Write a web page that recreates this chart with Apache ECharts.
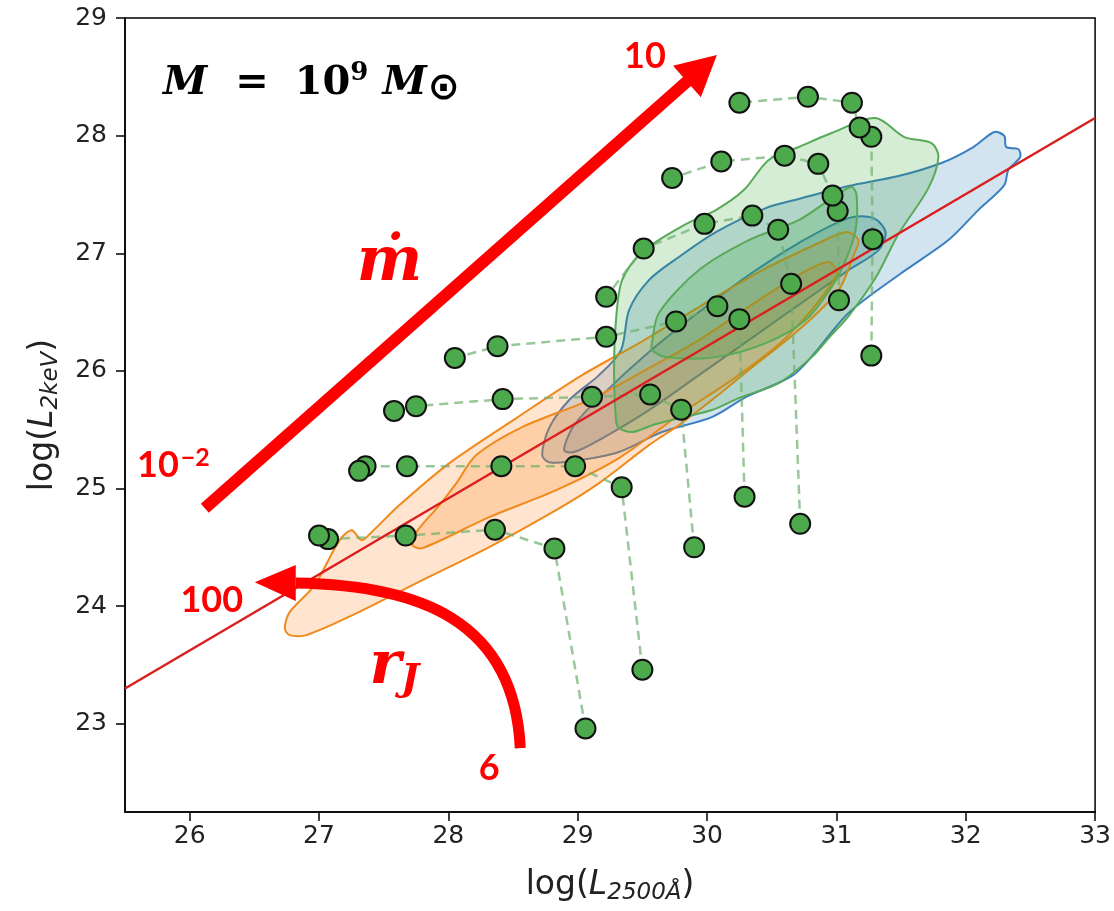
<!DOCTYPE html>
<html>
<head>
<meta charset="utf-8">
<script src="https://cdn.jsdelivr.net/npm/echarts@6/dist/echarts.min.js"></script>
<style>
  html, body { margin: 0; padding: 0; background: #ffffff; }
  #chart { width: 1114px; height: 911px; }
</style>
</head>
<body>
<div id="chart"></div>
<script>
// Axis ticks
const xTicks = [26, 27, 28, 29, 30, 31, 32, 33];
const yTicks = [23, 24, 25, 26, 27, 28, 29];

// Model tracks: each track is one accretion rate, r_J running from 6 up to 100
const track1 = [[29.06, 22.96], [28.82, 24.49], [28.36, 24.65], [27.67, 24.60], [27.07, 24.57], [27.00, 24.60]];
const track2 = [[29.50, 23.46], [29.34, 25.01], [28.98, 25.19], [28.41, 25.19], [27.68, 25.19], [27.36, 25.19], [27.31, 25.15]];
const track3 = [[29.90, 24.50], [29.80, 25.67], [29.56, 25.80], [29.11, 25.78], [28.42, 25.76], [27.75, 25.70], [27.58, 25.66]];
const track4 = [[30.29, 24.93], [30.25, 26.44], [30.08, 26.55], [29.76, 26.42], [29.22, 26.29], [28.38, 26.21], [28.05, 26.11]];
const track5 = [[30.72, 24.70], [30.65, 26.74], [30.55, 27.20], [30.35, 27.32], [29.98, 27.25], [29.51, 27.04], [29.22, 26.63]];
const track6 = [[31.02, 26.60], [31.01, 27.36], [30.97, 27.49], [30.86, 27.76], [30.60, 27.83], [30.11, 27.78], [29.73, 27.64]];
const track7 = [[31.27, 26.13], [31.28, 27.12], [31.27, 27.99], [31.18, 28.07], [31.12, 28.28], [30.78, 28.33], [30.25, 28.28]];
const tracks = [track1, track2, track3, track4, track5, track6, track7];

// Best-fit relation
const fitLine = [[25.5, 23.30], [33.0, 28.15]];

// Density contours (outer and inner levels) of the observed samples
const blueOuter = [[28.725,25.284],[28.779,25.514],[28.934,25.752],[29.165,25.964],[29.335,26.177],[29.397,26.517],[29.551,26.772],[29.782,26.968],[30.068,27.180],[30.454,27.384],[30.708,27.461],[31.094,27.571],[31.480,27.656],[31.812,27.767],[32.059,27.903],[32.221,28.031],[32.298,27.997],[32.313,27.903],[32.406,27.886],[32.421,27.818],[32.329,27.707],[32.298,27.580],[32.097,27.367],[31.866,27.112],[31.503,26.832],[31.094,26.492],[30.685,25.981],[30.299,25.777],[30.037,25.607],[29.651,25.480],[29.319,25.310],[28.972,25.233],[28.779,25.224]];
const blueInner = [[28.895,25.327],[28.972,25.539],[29.204,25.811],[29.551,26.160],[29.937,26.500],[30.323,26.815],[30.708,27.087],[31.094,27.299],[31.287,27.299],[31.380,27.180],[31.326,27.027],[31.094,26.857],[30.708,26.560],[30.323,26.262],[29.937,25.964],[29.551,25.667],[29.165,25.412],[28.972,25.310]];
const greenOuter = [[29.296,25.582],[29.281,26.007],[29.296,26.432],[29.343,26.772],[29.497,27.010],[29.836,27.248],[30.068,27.367],[30.284,27.537],[30.477,27.793],[30.708,27.903],[30.963,28.022],[31.302,28.150],[31.526,27.988],[31.735,27.937],[31.789,27.818],[31.711,27.554],[31.480,27.163],[31.302,26.789],[31.094,26.466],[30.940,26.279],[30.809,26.117],[30.554,25.896],[30.245,25.769],[30.037,25.667],[29.605,25.548],[29.420,25.480],[29.319,25.514]];
const greenInner = [[29.574,26.236],[29.628,26.492],[29.937,26.857],[30.323,27.112],[30.708,27.282],[30.978,27.478],[31.117,27.563],[31.156,27.495],[31.148,27.197],[31.071,26.942],[30.963,26.713],[30.762,26.432],[30.454,26.236],[30.068,26.117],[29.682,26.117],[29.574,26.177]];
const orangeOuter = [[26.735,23.813],[26.773,23.949],[26.966,24.179],[27.159,24.561],[27.252,24.646],[27.329,24.561],[27.406,24.629],[27.622,24.859],[28.008,25.216],[28.525,25.599],[29.034,25.964],[29.474,26.236],[29.937,26.543],[30.400,26.840],[30.863,27.087],[31.079,27.180],[31.171,27.112],[31.133,26.985],[31.017,26.687],[30.708,26.347],[30.323,26.007],[30.037,25.752],[29.782,25.539],[29.551,25.369],[29.165,25.046],[28.833,24.816],[28.316,24.502],[27.799,24.221],[27.290,23.940],[26.904,23.754],[26.773,23.754]];
const orangeInner = [[27.722,24.519],[27.753,24.629],[27.931,24.859],[28.062,25.046],[28.216,25.284],[28.571,25.522],[29.088,25.752],[29.551,26.024],[29.937,26.262],[30.400,26.602],[30.708,26.815],[30.940,26.925],[31.002,26.815],[30.631,26.304],[30.245,25.964],[29.782,25.624],[29.319,25.259],[28.833,24.986],[28.316,24.757],[27.799,24.493]];

const chart = echarts.init(document.getElementById('chart'), null, { renderer: 'canvas' });

function contour(poly, fill, stroke) {
  return {
    type: 'custom',
    silent: true,
    animation: false,
    z: 1,
    data: poly,
    renderItem(params, api) {
      if (params.dataIndex !== 0) return null;
      const pts = poly.map(p => api.coord(p));
      return {
        type: 'polygon',
        shape: { points: pts, smooth: 0.3 },
        style: { fill: fill, stroke: stroke, lineWidth: 2 }
      };
    }
  };
}

const BLUE_FILL = 'rgba(31,119,180,0.20)', BLUE_LINE = '#3a7fc0';
const GREEN_FILL = 'rgba(44,160,44,0.20)', GREEN_LINE = '#58aa58';
const ORANGE_FILL = 'rgba(255,127,14,0.20)', ORANGE_LINE = '#f08a1c';

const series = [
  contour(blueOuter, BLUE_FILL, BLUE_LINE),
  contour(blueInner, BLUE_FILL, BLUE_LINE),
  contour(orangeOuter, ORANGE_FILL, ORANGE_LINE),
  contour(orangeInner, ORANGE_FILL, ORANGE_LINE),
  contour(greenOuter, GREEN_FILL, GREEN_LINE),
  contour(greenInner, GREEN_FILL, GREEN_LINE)
];

tracks.forEach(t => {
  series.push({
    type: 'line',
    data: t,
    z: 2,
    silent: true,
    animation: false,
    showSymbol: false,
    lineStyle: { color: 'rgba(110,175,110,0.7)', width: 2.5, type: [9, 6] }
  });
});

series.push({
  type: 'line',
  data: fitLine,
  z: 3,
  silent: true,
  animation: false,
  showSymbol: false,
  lineStyle: { color: '#dc1e1e', width: 2.5 }
});

series.push({
  type: 'scatter',
  data: tracks.flat(),
  z: 4,
  silent: true,
  animation: false,
  symbol: 'circle',
  symbolSize: 20,
  itemStyle: { color: '#4caa4c', borderColor: '#111111', borderWidth: 2, opacity: 1 }
});

const axisFont = 'DejaVu Sans';

chart.setOption({
  backgroundColor: '#ffffff',
  animation: false,
  grid: { left: 125, top: 18, width: 972, height: 794, show: true, borderColor: '#000', borderWidth: 1.5, backgroundColor: 'transparent' },
  xAxis: {
    type: 'value', min: 25.5, max: 33, splitNumber: 8,
    axisLine: { show: true, onZero: false, lineStyle: { color: '#000', width: 1.5 } },
    axisTick: { show: true, length: 9, lineStyle: { color: '#000', width: 1.5 }, customValues: xTicks },
    axisLabel: { customValues: xTicks, fontSize: 25, color: '#222', margin: 12, fontFamily: axisFont },
    splitLine: { show: false },
    name: 'log({i|L}{s|2500Å})',
    nameLocation: 'middle',
    nameGap: 53,
    nameTextStyle: {
      fontSize: 33, color: '#222', fontFamily: axisFont, lineHeight: 40,
      rich: {
        i: { fontSize: 33, fontStyle: 'italic', color: '#222', fontFamily: axisFont, lineHeight: 40 },
        s: { fontSize: 23, fontStyle: 'italic', color: '#222', fontFamily: axisFont, lineHeight: 18, verticalAlign: 'bottom' }
      }
    }
  },
  yAxis: {
    type: 'value', min: 22.25, max: 29, splitNumber: 7,
    axisLine: { show: true, onZero: false, lineStyle: { color: '#000', width: 1.5 } },
    axisTick: { show: true, length: 9, lineStyle: { color: '#000', width: 1.5 }, customValues: yTicks },
    axisLabel: { customValues: yTicks, fontSize: 25, color: '#222', margin: 18, fontFamily: axisFont },
    splitLine: { show: false },
    name: 'log({i|L}{s|2keV})',
    nameLocation: 'middle',
    nameGap: 62,
    nameTextStyle: {
      fontSize: 33, color: '#222', fontFamily: axisFont, lineHeight: 40,
      rich: {
        i: { fontSize: 33, fontStyle: 'italic', color: '#222', fontFamily: axisFont, lineHeight: 40 },
        s: { fontSize: 23, fontStyle: 'italic', color: '#222', fontFamily: axisFont, lineHeight: 18, verticalAlign: 'bottom' }
      }
    }
  },
  series: series
});

// Annotations: trend arrows and their labels, anchored in data space
function drawAnnotations() {
  const P = p => chart.convertToPixel({ gridIndex: 0 }, p);
  const RED = '#ff0000';
  const numFont = 'Lato';
  const els = [];

  // accretion-rate arrow
  const s = P([26.117, 24.833]);
  const t = P([30.076, 28.685]);
  const dx = t[0] - s[0], dy = t[1] - s[1];
  const len = Math.hypot(dx, dy), ux = dx / len, uy = dy / len;
  const headL = 40, headW = 21;
  const bx = t[0] - ux * headL, by = t[1] - uy * headL;
  els.push({ type: 'line', shape: { x1: s[0], y1: s[1], x2: bx + ux * 2, y2: by + uy * 2 }, style: { stroke: RED, lineWidth: 12 } });
  els.push({ type: 'polygon', shape: { points: [[t[0], t[1]], [bx - uy * headW, by + ux * headW], [bx + uy * headW, by - ux * headW]] }, style: { fill: RED } });

  // jet-radius arrow
  const c0 = P([28.556, 22.793]);
  const c1 = P([28.509, 23.881]);
  const c2 = P([27.776, 24.179]);
  const c3 = P([26.789, 24.196]);
  const tip = P([26.503, 24.204]);
  els.push({ type: 'bezierCurve', shape: { x1: c0[0], y1: c0[1], cpx1: c1[0], cpy1: c1[1], cpx2: c2[0], cpy2: c2[1], x2: c3[0] + 4, y2: c3[1] }, style: { stroke: RED, lineWidth: 11, fill: null } });
  const hx = c3[0], hy = c3[1];
  els.push({ type: 'polygon', shape: { points: [[tip[0], tip[1]], [hx + 4, hy - 18], [hx + 4, hy + 18]] }, style: { fill: RED } });

  function label(pos, text, extra) {
    const p = P(pos);
    return {
      type: 'text', x: p[0], y: p[1],
      style: Object.assign({
        text: text, fill: RED, fontFamily: numFont, fontWeight: 'bold', fontSize: 36,
        align: 'center', verticalAlign: 'middle', textAlign: 'center', textVerticalAlign: 'middle'
      }, extra || {})
    };
  }

  els.push(label([29.52, 28.67], '10'));
  els.push(label([26.171, 24.05], '100'));
  els.push(label([28.316, 22.62], '6'));
  els.push(label([25.593, 25.20], '{a|10}{b|−2}', {
    align: 'left', textAlign: 'left',
    rich: {
      a: { fontFamily: numFont, fontWeight: 'bold', fontSize: 36, fill: RED, lineHeight: 40 },
      b: { fontFamily: numFont, fontWeight: 'bold', fontSize: 25, fill: RED, lineHeight: 12, verticalAlign: 'top', padding: [0, 0, 0, 2] }
    }
  }));
  els.push(label([27.545, 26.908], 'ṁ', { fontFamily: 'DejaVu Serif', fontStyle: 'italic', fontSize: 62 }));
  els.push(label([27.39, 23.48], '{r|r}{j|J}', {
    align: 'left', textAlign: 'left',
    rich: {
      r: { fontFamily: 'DejaVu Serif', fontStyle: 'italic', fontWeight: 'bold', fontSize: 60, fill: RED, lineHeight: 64 },
      j: { fontFamily: 'DejaVu Serif', fontStyle: 'italic', fontWeight: 'bold', fontSize: 38, fill: RED, lineHeight: 30, verticalAlign: 'bottom' }
    }
  }));
  els.push(label([25.793, 28.44], '{mi|M}{eq|=}{n|10}{sup|9}{m2|M}{sun|⊙}', {
    align: 'left', textAlign: 'left', fill: '#000',
    rich: {
      mi: { fontFamily: 'DejaVu Serif', fontStyle: 'italic', fontWeight: 'bold', fontSize: 40, fill: '#000', lineHeight: 48 },
      eq: { fontFamily: 'DejaVu Serif', fontWeight: 'bold', fontSize: 40, fill: '#000', lineHeight: 48, padding: [0, 26, 0, 28] },
      n: { fontFamily: 'DejaVu Serif', fontWeight: 'bold', fontSize: 40, fill: '#000', lineHeight: 48 },
      sup: { fontFamily: 'DejaVu Serif', fontWeight: 'bold', fontSize: 26, fill: '#000', lineHeight: 22, verticalAlign: 'top' },
      m2: { fontFamily: 'DejaVu Serif', fontStyle: 'italic', fontWeight: 'bold', fontSize: 40, fill: '#000', lineHeight: 48, padding: [0, 0, 0, 14] },
      sun: { fontFamily: 'DejaVu Sans', fontWeight: 'bold', fontSize: 38, fill: '#000', lineHeight: 12, verticalAlign: 'bottom', padding: [0, 0, 0, 1] }
    }
  }));

  els.forEach(e => { e.z = 100; e.silent = true; });
  chart.setOption({ graphic: { elements: els } });
}

drawAnnotations();
</script>
</body>
</html>
